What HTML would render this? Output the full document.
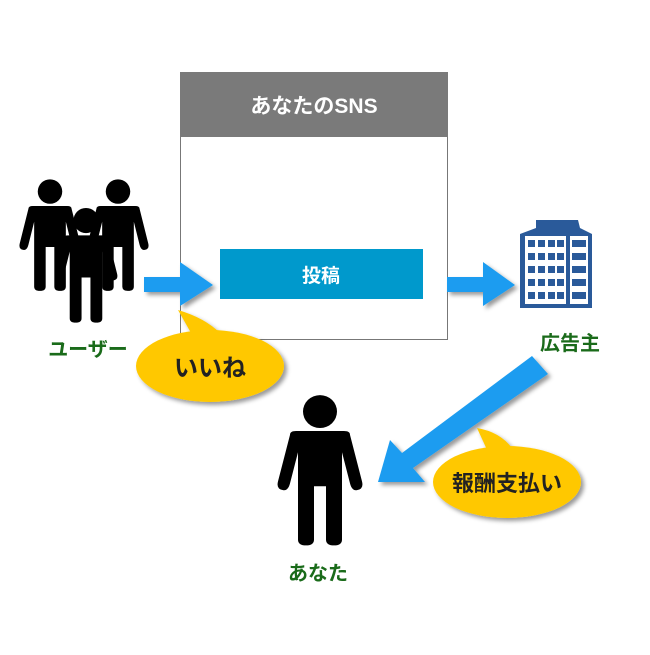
<!DOCTYPE html>
<html><head><meta charset="utf-8"><style>
body{margin:0;background:#fff}
text{font-family:"Liberation Sans","Noto Sans CJK JP",sans-serif;font-weight:bold}
</style></head><body>
<svg width="650" height="650" viewBox="0 0 650 650" xmlns="http://www.w3.org/2000/svg">
<defs>
<filter id="sh" x="-20%" y="-20%" width="150%" height="150%"><feDropShadow dx="3" dy="3" stdDeviation="2" flood-color="#000" flood-opacity="0.4"/></filter>
<g id="person">
<circle cx="0" cy="-52" r="17" fill="#000"/>
<path d="M-30,-28 Q-30,-32 -24,-32 L24,-32 Q30,-32 30,-28 L42,20 Q44,28 37,29 Q32,30 30,22 L22,-10 L22,80 Q22,86 14,86 Q6,86 6,80 L6,25 L-6,25 L-6,80 Q-6,86 -14,86 Q-22,86 -22,80 L-22,-10 L-30,22 Q-32,30 -37,29 Q-44,28 -42,20 Z" fill="#000"/>
</g>
</defs>
<rect x="180.5" y="72.5" width="267" height="267" fill="#fff" stroke="#777"/>
<rect x="180" y="72" width="268" height="65" fill="#7a7a7a"/>
<text x="314" y="113" fill="#fff" font-size="21" text-anchor="middle">あなたのSNS</text>
<rect x="220" y="249" width="203" height="50" fill="#0099cc"/>
<text x="321" y="282" fill="#fff" font-size="19" text-anchor="middle">投稿</text>
<g filter="url(#sh)" fill="#1a9cf0">
<path d="M144,277 L180,277 L180,262 L213,285 L180,306 L180,292 L144,292 Z"/>
<path d="M447,277 L483,277 L483,262 L515,285 L483,306 L483,292 L447,292 Z"/>
<path d="M532,356 L548,374 L413,468 L425,482 L378,482 L390,440 L402,453 Z"/>
</g>
<g transform="translate(50,229) scale(0.72)"><use href="#person"/></g>
<g transform="translate(118,229) scale(0.72)"><use href="#person"/></g>
<g transform="translate(86,259) scale(0.74)"><use href="#person"/></g>
<text x="88" y="356" fill="#1a6b1a" font-size="20" text-anchor="middle">ユーザー</text>
<g transform="translate(320,462) scale(1,0.97)"><use href="#person"/></g>
<text x="318" y="580" fill="#1a6b1a" font-size="20" text-anchor="middle">あなた</text>
<g transform="translate(520,220)">
<path d="M16,8 L16,0 L58,0 L60,8 L72,14 L72,88 L0,88 L0,14 Z" fill="#2a5a9a"/>
<rect x="5" y="16" width="41" height="68" fill="#fff"/>
<rect x="50" y="16" width="18" height="68" fill="#fff"/>
<g fill="#2a5a9a">
<rect x="8" y="20" width="7" height="7"/><rect x="18" y="20" width="7" height="7"/><rect x="28" y="20" width="7" height="7"/><rect x="37" y="20" width="7" height="7"/><rect x="52" y="20" width="14" height="7"/>
<rect x="8" y="33" width="7" height="7"/><rect x="18" y="33" width="7" height="7"/><rect x="28" y="33" width="7" height="7"/><rect x="37" y="33" width="7" height="7"/><rect x="52" y="33" width="14" height="7"/>
<rect x="8" y="46" width="7" height="7"/><rect x="18" y="46" width="7" height="7"/><rect x="28" y="46" width="7" height="7"/><rect x="37" y="46" width="7" height="7"/><rect x="52" y="46" width="14" height="7"/>
<rect x="8" y="59" width="7" height="7"/><rect x="18" y="59" width="7" height="7"/><rect x="28" y="59" width="7" height="7"/><rect x="37" y="59" width="7" height="7"/><rect x="52" y="59" width="14" height="7"/>
<rect x="8" y="72" width="7" height="7"/><rect x="18" y="72" width="7" height="7"/><rect x="28" y="72" width="7" height="7"/><rect x="37" y="72" width="7" height="7"/><rect x="52" y="72" width="14" height="7"/>
</g></g>
<text x="570" y="350" fill="#1a6b1a" font-size="20" text-anchor="middle">広告主</text>
<g filter="url(#sh)" fill="#ffc800">
<path d="M178,310 Q205,318 220,333 L195,340 Z"/>
<ellipse cx="210" cy="366" rx="74" ry="36"/>
<path d="M477,428 Q500,432 512,448 L488,452 Z"/>
<ellipse cx="507" cy="482" rx="74" ry="36"/>
</g>
<text x="210" y="376" fill="#222" font-size="24" text-anchor="middle">いいね</text>
<text x="507" y="491" fill="#222" font-size="22" text-anchor="middle">報酬支払い</text>
</svg>
</body></html>
